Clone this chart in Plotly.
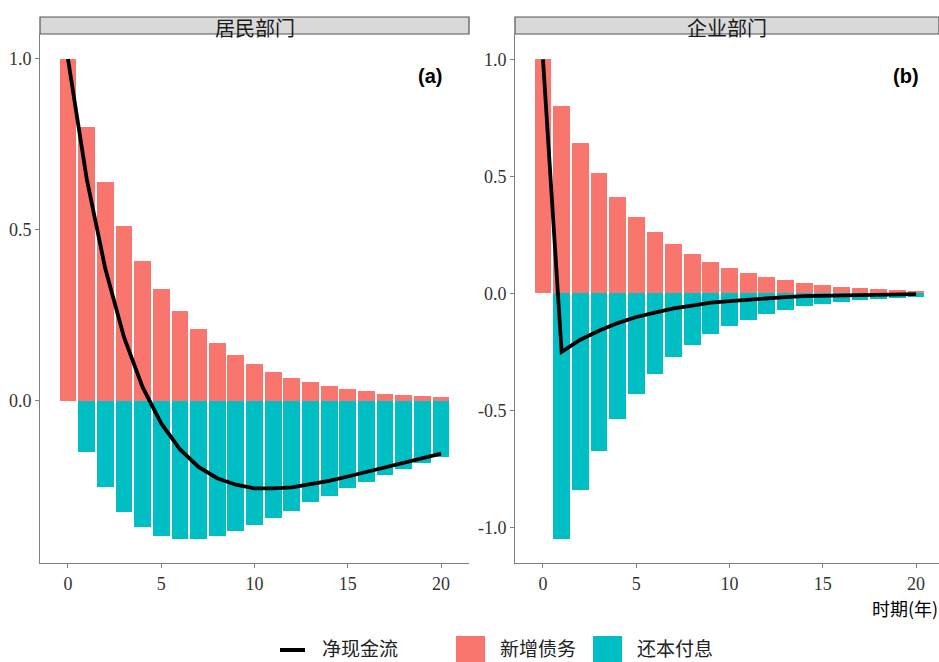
import plotly.graph_objects as go

periods = list(range(21))
# 居民部门
hh_new_debt = [1.0, 0.8, 0.64, 0.512, 0.41, 0.328, 0.262, 0.21, 0.169, 0.134, 0.107,
               0.086, 0.068, 0.056, 0.043, 0.035, 0.028, 0.021, 0.018, 0.014, 0.011]
hh_repay = [0.0, -0.149, -0.253, -0.325, -0.370, -0.394, -0.403, -0.403, -0.394, -0.379, -0.363,
            -0.342, -0.321, -0.297, -0.277, -0.256, -0.236, -0.216, -0.198, -0.181, -0.165]
hh_net = [1.0, 0.651, 0.387, 0.187, 0.04, -0.066, -0.141, -0.193, -0.226, -0.245, -0.256,
          -0.256, -0.253, -0.243, -0.234, -0.221, -0.208, -0.195, -0.180, -0.167, -0.154]
# 企业部门
co_new_debt = [1.0, 0.8, 0.641, 0.513, 0.41, 0.328, 0.262, 0.21, 0.168, 0.134, 0.107,
               0.086, 0.069, 0.055, 0.044, 0.035, 0.028, 0.022, 0.018, 0.014, 0.011]
co_repay = [0.0, -1.049, -0.839, -0.673, -0.537, -0.429, -0.344, -0.274, -0.220, -0.174, -0.140,
            -0.113, -0.088, -0.071, -0.056, -0.045, -0.036, -0.028, -0.023, -0.018, -0.014]
co_net = [1.0, -0.25, -0.198, -0.16, -0.127, -0.101, -0.082, -0.064, -0.052, -0.040, -0.033,
          -0.027, -0.019, -0.016, -0.012, -0.010, -0.008, -0.006, -0.005, -0.004, -0.003]

panel_titles = ["居民部门", "企业部门"]
panel_tags = ["(a)", "(b)"]
legend_names = ["净现金流", "新增债务", "还本付息"]

RED = "#F8766D"
CYAN = "#00BFC4"
W, H = 939, 662
CJK = "Noto Sans CJK SC"

fig = go.Figure()

def add_panel(xa, ya, new, rep, net):
    fig.add_trace(go.Bar(x=periods, y=new, width=0.9, marker=dict(color=RED, line=dict(width=0)),
                         name=legend_names[1], showlegend=False, xaxis=xa, yaxis=ya))
    fig.add_trace(go.Bar(x=periods[1:], y=rep[1:], width=0.9, marker=dict(color=CYAN, line=dict(width=0)),
                         name=legend_names[2], showlegend=False, xaxis=xa, yaxis=ya))
    fig.add_trace(go.Scatter(x=periods, y=net, mode="lines", line=dict(color="black", width=3.8),
                             name=legend_names[0], showlegend=False, xaxis=xa, yaxis=ya))

add_panel("x", "y", hh_new_debt, hh_repay, hh_net)
add_panel("x2", "y2", co_new_debt, co_repay, co_net)

def px_x(p):
    return p / W

def px_y(p):
    return (H - p) / H

y_dom = [px_y(563), px_y(34)]
tickfont = dict(family="Liberation Serif, Times New Roman, serif", size=18, color="#333333")
axis_common = dict(showline=True, linecolor="#7f7f7f", linewidth=1, ticks="outside", ticklen=4,
                   tickcolor="#7f7f7f", showgrid=False, zeroline=False, tickfont=tickfont,
                   automargin=False)

fig.update_layout(
    width=W, height=H, margin=dict(l=0, r=0, t=0, b=0),
    paper_bgcolor="white", plot_bgcolor="white",
    barmode="relative", bargap=0, showlegend=False,
    xaxis=dict(domain=[px_x(40), px_x(469)], range=[-1.5, 21.5], tickvals=[0, 5, 10, 15, 20],
               anchor="y", **axis_common),
    yaxis=dict(domain=y_dom, range=[-0.474, 1.073], tickvals=[0, 0.5, 1.0],
               ticktext=["0.0", "0.5", "1.0"], anchor="x", **axis_common),
    xaxis2=dict(domain=[px_x(515), 1.0], range=[-1.5, 21.23], tickvals=[0, 5, 10, 15, 20],
                anchor="y2", **axis_common),
    yaxis2=dict(domain=y_dom, range=[-1.152, 1.108], tickvals=[-1.0, -0.5, 0, 0.5, 1.0],
                ticktext=["-1.0", "-0.5", "0.0", "0.5", "1.0"], anchor="x2", **axis_common),
)

# facet strips
for xr, title in zip(["x domain", "x2 domain"], panel_titles):
    fig.add_shape(type="rect", xref=xr, yref="paper", x0=0, x1=1, y0=px_y(34), y1=px_y(17),
                  fillcolor="#D9D9D9", line=dict(color="#555555", width=1.2), layer="below")
    fig.add_annotation(xref=xr, yref="paper", x=0.5, y=px_y(27), text=title, showarrow=False,
                       xanchor="center", yanchor="middle",
                       font=dict(family=CJK, size=20, color="#1a1a1a"))

for xp, tag in zip([429.5, 905.5], panel_tags):
    fig.add_annotation(xref="paper", yref="paper", x=px_x(xp), y=px_y(76), text="<b>%s</b>" % tag,
                       showarrow=False, xanchor="center", yanchor="middle",
                       font=dict(family="Liberation Sans, Arial", size=20, color="black"))

fig.add_annotation(xref="paper", yref="paper", x=1.0, y=px_y(594), text="时期(年)",
                   showarrow=False, xanchor="right", yanchor="top", borderpad=0,
                   font=dict(family=CJK, size=18, color="black"))

# legend (drawn manually, ggplot-style keys)
leg_y = 647
fig.add_shape(type="line", xref="paper", yref="paper", x0=px_x(280), x1=px_x(305),
              y0=px_y(650), y1=px_y(650), line=dict(color="black", width=4))
fig.add_shape(type="rect", xref="paper", yref="paper", x0=px_x(456), x1=px_x(485),
              y0=px_y(665), y1=px_y(636), fillcolor=RED, line=dict(width=0))
fig.add_shape(type="rect", xref="paper", yref="paper", x0=px_x(593), x1=px_x(622),
              y0=px_y(665), y1=px_y(636), fillcolor=CYAN, line=dict(width=0))
for xp, name in zip([320, 498, 635], legend_names):
    fig.add_annotation(xref="paper", yref="paper", x=px_x(xp), y=px_y(leg_y), text=name,
                       showarrow=False, xanchor="left", yanchor="middle",
                       font=dict(family=CJK, size=19, color="#222222"))

fig.write_html("out.html")
